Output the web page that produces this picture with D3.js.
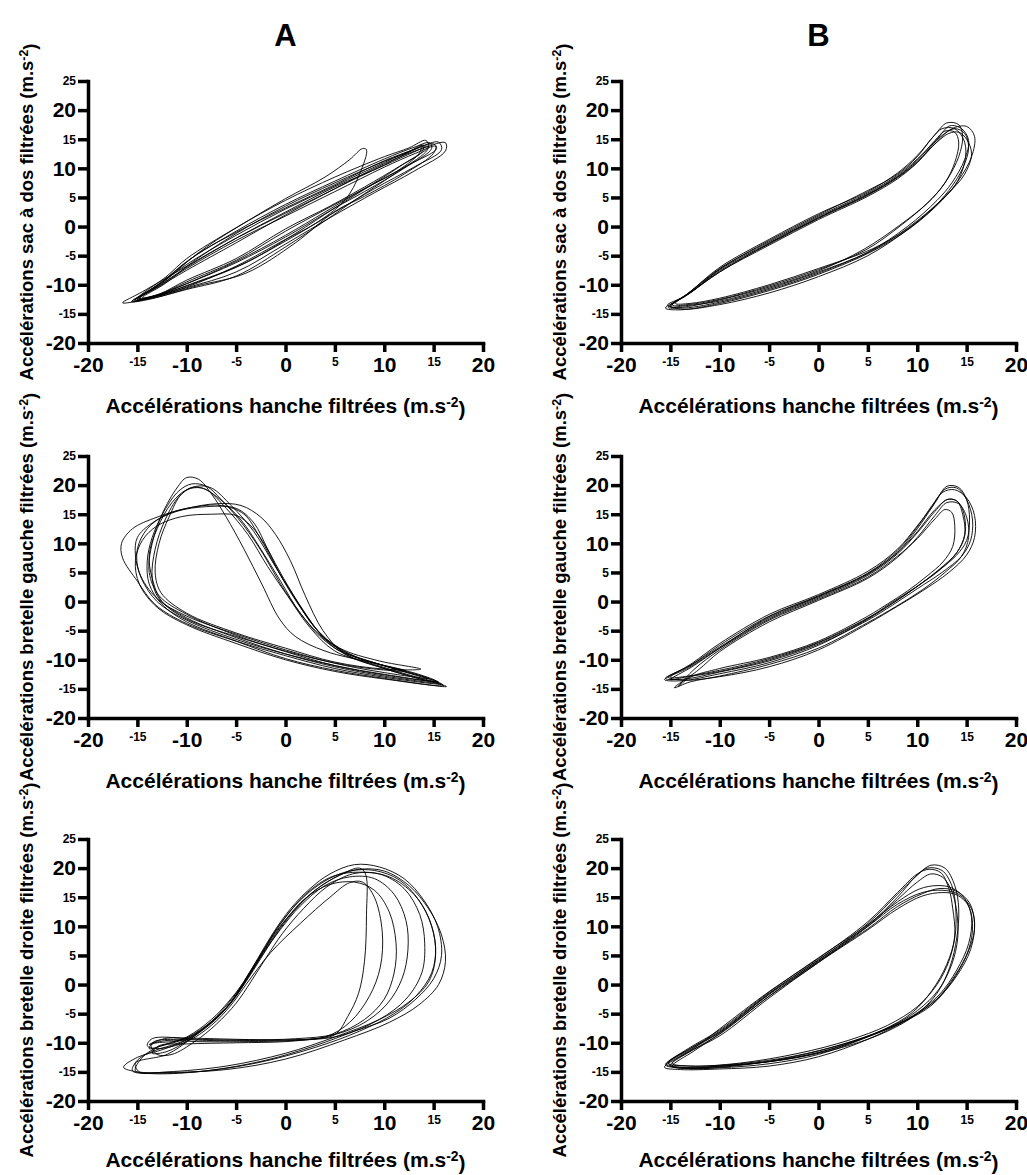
<!DOCTYPE html>
<html>
<head>
<meta charset="utf-8">
<script src="https://cdn.jsdelivr.net/npm/d3@7"></script>
<style>
  body { margin: 0; background: #fff; }
  text { font-family: "Liberation Sans", Arial, sans-serif; font-weight: bold; fill: #000; }
</style>
</head>
<body>
<svg id="chart" width="1027" height="1175"></svg>
<script>
'use strict';

// ---- data ----
var xTicks = [-20, -15, -10, -5, 0, 5, 10, 15, 20];
var yTicks = [-20, -15, -10, -5, 0, 5, 10, 15, 20, 25];
var majorTicks = [-20, -10, 0, 10, 20];
var columnLabels = ["A", "B"];
var xTitle = "Accélérations hanche filtrées (m.s";
var yTitles = [
  "Accélérations sac à dos filtrées (m.s",
  "Accélérations bretelle gauche filtrées (m.s",
  "Accélérations bretelle droite filtrées (m.s"
];
var unitExp = "-2";

// sac à dos, condition A
var loopsA1 = [
  [[-15.2,-12.6],[-12.5,-9.5],[-10,-6],[-5,-0.8],[0,3.8],[5,7.8],[10,11.6],[13,13.6],[14.6,14.4],[14.8,13.4],[12,10],[8,6],[5,3.2],[0,-1.8],[-5,-6.2],[-10,-9.8],[-13.5,-12]],
  [[-15.5,-12.8],[-13,-10.2],[-10,-6.5],[-5,-1.5],[0,3],[5,7],[10,11],[13.5,13.6],[15.5,14.5],[15.8,13.2],[13,10.2],[9,6.5],[5,2.5],[0,-2.5],[-5,-7],[-10,-10.2],[-13.5,-12.2]],
  [[-15,-12.4],[-12,-8.5],[-10,-5.5],[-5,-0.2],[0,4.5],[5,8.5],[10,12],[12.5,13.5],[14.2,14.8],[14.5,13.8],[12,10.8],[8.5,7],[5,3.8],[0,-0.8],[-5,-5.8],[-10,-9.5],[-13,-11.8]],
  [[-16.5,-13.1],[-14.5,-11.2],[-10,-6.8],[-5,-2],[0,2.3],[5,6.5],[10,10.8],[14,13.5],[16.2,14.4],[16.2,13],[13,9.5],[9,5.8],[5,2],[0,-3],[-5,-7.8],[-10,-10.5],[-15,-12.8]],
  [[-14.8,-12.5],[-12,-8.8],[-8,-3.5],[-4,0.8],[0,4.8],[4,8.5],[6.5,11.5],[7.8,13.4],[8.2,13.2],[7.5,9],[6,4.5],[3,0.5],[0,-2.2],[-5,-6.8],[-10,-10.4],[-13.5,-12.2]],
  [[-15,-12.6],[-12.5,-9.8],[-10,-7],[-5,-2],[0,2.5],[5,6.8],[10,10.5],[13,12.8],[14.5,13.8],[14.2,12.8],[11,9],[7,4.5],[4,1],[0,-3.5],[-5,-8.5],[-10,-10.8],[-13.5,-12.3]],
  [[-15.3,-12.7],[-13,-10.5],[-10,-7.5],[-5,-2.8],[0,2],[5,6.5],[10,10.6],[12.5,12.8],[13.8,14],[13.5,12.5],[11,9.2],[8,6.5],[4,2.5],[0,-1.5],[-5,-6],[-10,-9.8],[-13.2,-12]],
  [[-14.8,-12.3],[-12,-9],[-9,-4.8],[-5,-1],[0,3.2],[5,7.2],[10,11.3],[13,13.2],[15,14.2],[15.3,13.4],[12.5,10.6],[9,7.4],[5,3.2],[1,-1.2],[-4,-6.2],[-9,-9.5],[-13,-11.8]],
  [[-14.5,-12.2],[-12.2,-9.8],[-9.5,-6.2],[-5,-1.2],[0,3.5],[5,7.5],[10,11.2],[12.8,13],[14,14],[13.8,12.8],[11.5,10.3],[8,6.8],[4.5,3.5],[0,-0.4],[-5,-5.5],[-10,-9.2],[-12.8,-11.6]],
  [[-15.6,-12.9],[-13.4,-10.8],[-10,-7.2],[-5,-2.4],[0,1.8],[5,6],[10,10.2],[13.2,12.6],[15.2,13.8],[15,12.6],[12,9],[8,5.2],[5,2.6],[1,-2.8],[-4,-8],[-9,-10.2],[-13.8,-12.5]]
];

// sac à dos, condition B
var loopsB1 = [
  [[-15,-13.8],[-13.3,-11.6],[-10,-7.2],[-5,-2.6],[0,1.8],[5,5.8],[8,8.8],[10,11.6],[12,15],[13.3,17.3],[14.5,16.8],[15.2,14.8],[14.8,11.5],[13.5,7.5],[12,4.5],[9,0],[5,-4.4],[0,-7.8],[-5,-10.6],[-10,-12.8],[-13.5,-13.6]],
  [[-15.5,-14],[-13.5,-12],[-10,-7.6],[-5,-3],[0,1.4],[5,5.4],[8,8.4],[10,11],[12,14.6],[13.5,16.8],[15,17.2],[15.8,15.5],[15.5,12],[14.2,8],[12.5,4.5],[9.5,0],[5.5,-4.2],[0,-8.2],[-5,-11],[-10,-13.2],[-14,-14.3]],
  [[-14.8,-13.5],[-13,-11.2],[-10,-7],[-5,-2.2],[0,2.2],[5,6],[8,9.2],[10,12.2],[11.8,15.8],[13,17.8],[14.2,17.5],[14.6,15.5],[14.2,12],[13,8],[11.5,4.8],[8.5,0.4],[4.8,-4],[0,-7.4],[-5,-10.2],[-10,-12.5],[-13.2,-13.4]],
  [[-15.2,-13.9],[-13.2,-11.5],[-10,-7.4],[-5,-2.8],[0,1.6],[5,5.6],[8,8.6],[10,11.4],[11.8,14.8],[12.8,16.4],[13.8,16.2],[14.2,14.5],[13.8,11],[12.8,7.5],[11,4],[8.2,0.2],[4.5,-4],[0,-7.6],[-5,-10.4],[-10,-12.6],[-13.5,-13.8]],
  [[-15,-13.6],[-13,-11.4],[-10,-7.8],[-5,-3.2],[0,1.2],[5,5.2],[8,8.2],[10,11],[12.2,15.2],[13.8,16.8],[14.8,16],[15.2,13.5],[14.6,10],[13.2,6.2],[11.5,3],[8.8,-0.8],[5,-5],[0,-8.6],[-5,-11.4],[-10,-13.4],[-13.8,-14.2]],
  [[-14.5,-13.2],[-12.5,-10.8],[-10,-7.3],[-5,-2.4],[0,2],[5,6.2],[8,9],[10,12],[11.5,15.2],[12.5,16.8],[13.8,16.8],[14.8,14.5],[14.8,11],[13.8,7],[12,3.8],[9.2,-0.2],[5.5,-3.8],[0,-7.2],[-5,-10],[-10,-12.3],[-13,-13.2]],
  [[-15.3,-13.5],[-13.6,-12],[-10,-7.8],[-5,-2.9],[0,1.5],[5,5.5],[8,8.5],[10,11.2],[12,14.5],[13.2,16],[14.2,16.2],[15,15],[15.5,12.5],[14.8,9],[13,5.5],[10,1],[6,-3.6],[0,-8],[-5,-10.8],[-10,-13],[-14,-14]]
];

// bretelle gauche, condition A
var loopsA2 = [
  [[15.3,-13.7],[10,-12.6],[5,-11],[0,-8.6],[-5,-5.8],[-10,-2.2],[-12.8,1],[-13.8,5],[-13.5,10],[-12.5,15],[-11,19.5],[-10,21.3],[-8.8,21],[-7.5,18.5],[-6,14.5],[-4.2,9],[-2.4,3],[-0.6,-3],[1,-6],[4,-8.5],[9,-10.6],[13.5,-12.5]],
  [[16.3,-14.6],[10,-13.2],[5,-11.8],[0,-9.8],[-5,-6.8],[-10,-3.5],[-12.5,-0.5],[-13.8,3],[-14,7],[-13.5,11],[-12.3,15.5],[-10.8,19],[-9.5,20.2],[-8,19.8],[-6.5,17.5],[-4.2,13],[-2.2,8],[-0.5,3],[1.5,-2],[3.5,-6],[6,-9],[10,-11.5],[13,-13]],
  [[15.5,-14],[10,-12.8],[5,-11.2],[0,-9],[-5,-6.2],[-10,-2.8],[-12.8,0.5],[-13.5,4],[-13.2,9],[-12.2,14],[-10.8,18],[-9.5,19.6],[-8,19.2],[-6,16],[-3.8,11.5],[-1.8,6],[0.2,1],[2.5,-4.5],[5,-8.5],[9,-10.8],[12.5,-12.6]],
  [[13.7,-11.6],[10,-11.6],[5,-10.4],[0,-8],[-5,-5.4],[-10,-2],[-12.6,1.5],[-13.2,5],[-12.8,10],[-11.8,14.5],[-10.5,18.5],[-9,19.8],[-7.5,19.5],[-5.5,16.5],[-3.2,12],[-1.2,6.5],[0.8,1],[3,-4.5],[5.5,-8],[9.5,-10.2]],
  [[12.2,-11.9],[8,-11.4],[4,-10.2],[0,-8.5],[-5,-6],[-10,-3],[-12.5,0],[-13.5,4],[-13.8,8],[-13,12.5],[-11.5,17],[-10,19.2],[-8.5,19.5],[-6.8,17.8],[-4.5,14],[-2.5,9],[-0.5,3.5],[1.5,-2],[4,-6.5],[7.5,-9.8]],
  [[15.8,-14.2],[10,-13],[5,-11.5],[0,-9.3],[-5,-6.8],[-10,-3.8],[-13.2,-0.5],[-15,3.5],[-16.5,7.5],[-16.6,10],[-15.5,12.5],[-13,14.5],[-10,16],[-7,16.8],[-4.5,16.5],[-2.5,14.5],[-1,11.5],[0.5,7],[2,1],[3.8,-5],[6,-9],[10,-11.5],[13,-13]],
  [[15.5,-13.8],[10,-12.5],[5,-11],[0,-9],[-5,-6.5],[-10,-3.2],[-13,0],[-14.6,4],[-15.2,8],[-15,11],[-13.5,13.5],[-11,15.5],[-8,16.3],[-5,16],[-3.2,13.5],[-1.8,9],[-0.2,4],[1.8,-1.5],[3.8,-6],[6.5,-9],[10.5,-11.3],[13.5,-12.8]],
  [[16,-14.4],[10,-13.3],[5,-12],[0,-10],[-5,-7.2],[-10,-4],[-13,-1],[-14.8,3],[-15.2,7],[-14.5,10.5],[-13,13],[-10.5,14.6],[-7.5,15],[-5,14.8],[-3.5,13],[-2,9.5],[-0.5,4.5],[1.5,-1],[3.5,-5.5],[6,-8.8],[10,-11],[13.8,-12.8]],
  [[14.5,-13.2],[10,-12.2],[5,-10.6],[0,-8.3],[-5,-5.6],[-10,-2.5],[-13,0.5],[-14.8,5],[-15,9],[-14,12.5],[-12,15],[-9,16.3],[-6.5,16.5],[-4.2,15],[-2.6,11],[-1,6],[0.8,1],[2.8,-4],[5,-8],[9,-10.5],[12,-12]]
];

// bretelle gauche, condition B
var loopsB2 = [
  [[-15.5,-13.2],[-13,-11],[-10,-7.8],[-5,-2.8],[0,0.8],[5,4.7],[8,8.5],[10,12.5],[11.5,16.2],[12.8,19.3],[14,19.5],[15,17.5],[15.6,14],[15.4,10.5],[14.5,7.8],[12.5,5],[10,2.2],[7.5,-0.6],[5,-3.2],[0,-7.3],[-5,-10.2],[-10,-12.1],[-13.5,-13.3]],
  [[-15,-13],[-12.8,-10.6],[-10,-7.2],[-5,-2.2],[0,1.2],[5,5.2],[8,9],[10,13],[11.8,17],[13,19.8],[14.2,19.6],[15,17.5],[15.3,14],[15,10.5],[14,8],[12.2,5.4],[10,2.6],[7.5,-0.3],[5,-2.8],[0,-7],[-5,-9.8],[-10,-11.8],[-13.2,-12.8]],
  [[-14.2,-14.6],[-12.5,-11.5],[-10,-8.3],[-5,-3.2],[0,0.4],[5,4.2],[8,7.8],[10,10.8],[11.8,14.2],[12.8,15.8],[13.5,15.3],[13.8,13],[13.6,9.5],[12.6,6.8],[11,4.4],[9,1.8],[7,-0.4],[5,-2.5],[0,-6.8],[-5,-9.6],[-10,-11.5],[-13,-13]],
  [[-15.6,-13.4],[-13.2,-11.4],[-10,-8],[-5,-3],[0,0.6],[5,4.5],[8,8.2],[10,11.8],[11.8,15.5],[13,17.5],[14,17.3],[14.6,15],[14.8,11.5],[14,8.4],[12.4,5.6],[10,2.6],[7.5,-0.3],[5,-3],[0,-7.5],[-5,-10.5],[-10,-12.4],[-13.8,-13.6]],
  [[-14.6,-14.8],[-12.2,-11.8],[-10,-8.6],[-5,-3.5],[0,0.2],[5,4],[8,7.6],[10,11],[11.8,14.8],[13,17],[14.2,16.8],[15,14.5],[15.2,11],[14.5,7.8],[12.8,5],[10.5,2],[7.8,-0.9],[5,-3.6],[0,-8],[-5,-10.8],[-10,-12.8],[-13,-13.8]],
  [[-15.2,-13],[-13,-11],[-10,-7.5],[-5,-2.5],[0,1],[5,4.9],[8,8.8],[10,12.8],[11.5,16.5],[12.6,18.8],[13.8,19.2],[15,17.8],[15.8,14.8],[15.8,11],[15,8],[13.2,5],[10.5,1.8],[8,-0.8],[5,-3.8],[0,-8.3],[-5,-11.2],[-10,-12.9],[-13.5,-13.5]],
  [[-15,-13.4],[-12.8,-11.2],[-10,-8],[-5,-2.6],[0,0.9],[5,4.8],[8,8.4],[10,12],[11.8,15.8],[13.2,17.6],[14.2,17],[14.8,14.5],[14.8,11.2],[14,8.4],[12.2,5.5],[9.8,2.4],[7.2,-0.4],[5,-2.9],[0,-7.1],[-5,-10],[-10,-12],[-13.6,-13]]
];

// bretelle droite, condition A
var loopsA3 = [
  [[-12.5,-11.2],[-10,-9.5],[-7.5,-6.5],[-5.5,-3],[-4,0.5],[-2.5,4.5],[-1,8.5],[0.8,12.5],[3,16.2],[5.5,18.8],[7.5,19.8],[10,19.5],[12.5,17],[14.5,13],[15.8,8.5],[16.2,4],[15.5,0],[13.5,-3.5],[10.5,-6.5],[6,-9.5],[0,-12.8],[-6,-14.6],[-12,-15.1],[-15,-15],[-16.4,-14.2],[-15,-12.5]],
  [[-13,-10.8],[-10,-9],[-7.5,-6],[-5.8,-3],[-4.2,0.5],[-2.8,4.5],[-1.2,9],[0.5,13],[2.5,16.5],[4.5,19],[7,20.6],[9.5,20.2],[12,18.2],[14,14.5],[15.4,10],[15.8,5],[15,1],[13.2,-2.5],[10.5,-5.8],[7,-8],[3,-10.5],[-2,-13],[-8,-14.8],[-13,-15.2],[-15.2,-14.8],[-14.5,-12.5]],
  [[-12,-12],[-9.5,-9.2],[-7,-5.5],[-5,-1.5],[-3.5,2.5],[-2,6.5],[-0.5,10.5],[1.5,14.5],[4,17.8],[6.5,19.5],[9,19.6],[11.5,18],[13.5,14.5],[14.8,10],[15.2,5],[14.5,0.5],[12.5,-3],[9.5,-6],[5,-9],[0,-11.8],[-6,-14],[-12,-15],[-14.8,-15],[-15.2,-13.5]],
  [[-13.5,-11.5],[-10.5,-9.8],[-8,-7.2],[-6,-4],[-4.5,-0.5],[-3,3.5],[-1.5,8],[0.2,12],[2.2,15.8],[4.8,18.6],[7.5,19.3],[10.5,18.5],[13,15.5],[14.5,11.5],[15.2,6.5],[14.8,2],[13.2,-2],[11,-5],[7.5,-8],[3,-10.8],[-3,-13.5],[-9,-15],[-13.5,-15.3],[-15.5,-14.8],[-15,-13]],
  [[-12.5,-10.5],[-10,-9.2],[-7.5,-6.5],[-5.5,-3],[-4,1],[-2.5,5],[-1,9],[1,13],[3,16.2],[5.5,18.8],[7.5,20],[8.1,19],[8.2,12],[8,4],[7.4,-1.5],[6.3,-5.5],[5,-8.6],[2,-9.4],[-3,-9.6],[-8,-9.6],[-11,-9.4],[-13.3,-9.8],[-13.8,-11]],
  [[-13,-10],[-10.5,-9.5],[-8,-7],[-6,-4],[-4.5,-0.5],[-3,3.5],[-1.5,7.5],[0.2,11.5],[2,14.8],[4.5,17.2],[7,17.6],[9,16.2],[10.5,12.5],[11.2,7],[11,2],[10,-2.5],[8,-6],[5,-8.5],[1,-9.3],[-4,-9.5],[-9,-9.4],[-12,-9.2],[-13.8,-10.3]],
  [[-12,-11.5],[-9.8,-9.5],[-7.2,-6.2],[-5.2,-2.5],[-3.8,1.2],[-2.2,5.5],[-0.5,9.5],[1.5,13.5],[4,17],[6.5,18.5],[9,18.2],[11,15.5],[12.2,11],[12.4,6],[11.8,1],[10.2,-3.5],[7.5,-7],[4,-9],[0,-9.8],[-5,-10],[-10,-10.2],[-12.8,-10.5],[-13.5,-11.8]],
  [[-11.5,-12],[-9.2,-9.8],[-7,-6.8],[-5,-3.2],[-3.5,0.5],[-2,4.5],[-0.3,8.8],[1.8,13],[4.2,16.8],[6.8,19],[9.5,19],[12,16.5],[13.6,12],[14.1,7],[13.8,2],[12.2,-2.5],[9.5,-6],[5.5,-8.8],[1,-9.6],[-4,-9.8],[-9,-9.8],[-12,-9.6],[-13.6,-10.4],[-13,-12]],
  [[-13,-11],[-10,-9.8],[-7.5,-7],[-5.5,-3.5],[-4,0],[-1.5,5.5],[1.5,10.5],[4.5,15],[6.5,17.5],[7.8,17.6],[9,15],[9.8,9],[9.6,3],[8.5,-2],[6.5,-6.5],[4,-9],[0,-9.5],[-5,-9.4],[-10,-9.2],[-13.5,-9.3],[-14,-10.5]]
];

// bretelle droite, condition B
var loopsB3 = [
  [[-15.5,-13.8],[-13,-11],[-10,-8],[-5,-1.5],[0,4.2],[5,10.5],[8,15.5],[10,18.8],[11.4,20.5],[12.8,20],[13.8,17],[14.2,13],[14,8],[13.3,3],[12,-1.5],[10,-5],[7,-8],[3,-10.5],[-2,-12.5],[-8,-13.8],[-13,-14.3]],
  [[-15.2,-13.5],[-12.8,-10.8],[-10,-8.2],[-5,-1.7],[0,4],[5,10.2],[8,15],[9.8,18.5],[11,20],[12.5,19.6],[13.5,17],[13.9,13],[13.8,8],[13,3.5],[11.5,-1],[9.5,-4.8],[6.5,-7.8],[2.5,-10.2],[-2.5,-12.3],[-8,-13.6],[-13,-14]],
  [[-15,-13.9],[-12.7,-11.2],[-10,-8.5],[-5,-2],[0,3.8],[5,10],[8,14.6],[10,17.6],[11.4,19],[12.6,18.4],[13.5,16],[14,12.5],[14.1,8],[13.5,3.5],[12.2,-0.8],[10,-4.5],[7,-7.5],[3,-10],[-2,-12.2],[-8,-13.9],[-13.5,-14.4]],
  [[-15.2,-13.6],[-13,-11.2],[-10,-8.2],[-5,-1.6],[0,4.3],[5,10],[8,13.8],[10.5,15.8],[12.5,16.2],[14.2,15.5],[15.5,13],[15.8,9.5],[15,5],[13.5,0.5],[11.5,-3.5],[8.5,-6.5],[5,-9],[0,-12],[-5,-13.6],[-10,-14.3],[-13.5,-14.4]],
  [[-14.8,-14],[-12.6,-11.4],[-10,-8.4],[-5,-2],[0,4],[5,9.6],[8,13.4],[10.5,15.6],[12.3,16.5],[14,16],[15.3,14],[15.8,10.5],[15.4,6],[14,1.5],[12,-2.5],[9,-6],[5.5,-8.6],[0.5,-11.5],[-5,-13.2],[-10,-14],[-13.5,-14.4]],
  [[-15.4,-13.7],[-13.2,-11],[-10,-7.8],[-5,-1.3],[0,4.6],[5,10.3],[8,14.2],[10.2,16.4],[12,17],[13.5,16.6],[14.8,14.8],[15.5,11.5],[15.2,7],[14,2.5],[12.2,-1.8],[9.5,-5.4],[6,-8.2],[1,-11.2],[-4,-13],[-10,-14],[-13.8,-14.2]],
  [[-14.8,-13.5],[-12.5,-10.8],[-10,-7.6],[-5,-1.2],[0,4.5],[5,10.8],[8,15.8],[10,19],[11.2,19.8],[12.4,19.2],[13.2,16.5],[13.6,13],[13.8,8.5],[13.2,4],[12,0],[10,-3.8],[7,-7],[3,-9.6],[-2,-11.8],[-8,-13.5],[-13,-14]],
  [[-15.6,-14.2],[-13.4,-11.8],[-10,-8.8],[-5,-2.3],[0,3.8],[5,9.4],[8,13],[10.5,15.2],[12.5,15.8],[14,15.4],[15.2,13.5],[15.6,10],[15.2,6],[13.8,1.5],[11.8,-2.8],[8.8,-6.2],[5,-9.4],[0,-12.4],[-5,-14],[-10,-14.5],[-14,-14.6]]
];

var panels = [
  { loops: loopsA1, col: 0, row: 0 },
  { loops: loopsB1, col: 1, row: 0 },
  { loops: loopsA2, col: 0, row: 1 },
  { loops: loopsB2, col: 1, row: 1 },
  { loops: loopsA3, col: 0, row: 2 },
  { loops: loopsB3, col: 1, row: 2 }
];

// ---- layout ----
var colLeft = [88, 621];
var rowTop = [81, 456, 839];
var xTitleGap = [70, 70, 66];
var W = 395, H = 262;

var svg = d3.select("#chart");

function isMajor(d) { return majorTicks.indexOf(d) >= 0; }

function addUnitTitle(sel, text) {
  sel.append("tspan").text(text);
  sel.append("tspan").attr("dy", "-0.42em").style("font-size", "0.66em").text(unitExp);
  sel.append("tspan").attr("dy", "0.42em").text(")");
}

function drawPanel(p) {
  var g = svg.append("g")
    .attr("transform", "translate(" + colLeft[p.col] + "," + rowTop[p.row] + ")");

  var x = d3.scaleLinear().domain([-20, 20]).range([0, W]);
  var y = d3.scaleLinear().domain([-20, 25]).range([H, 0]);

  var line = d3.line()
    .x(function(d) { return x(d[0]); })
    .y(function(d) { return y(d[1]); })
    .curve(d3.curveCatmullRomClosed.alpha(0.5));

  g.append("g").selectAll("path")
    .data(p.loops)
    .enter().append("path")
    .attr("d", line)
    .attr("fill", "none")
    .attr("stroke", "#000")
    .attr("stroke-width", 0.9);

  var xAxis = d3.axisBottom(x)
    .tickValues(xTicks)
    .tickSize(9).tickSizeOuter(0).tickPadding(5)
    .tickFormat(function(d) { return String(d); });
  var yAxis = d3.axisLeft(y)
    .tickValues(yTicks)
    .tickSize(10).tickSizeOuter(0).tickPadding(2)
    .tickFormat(function(d) { return String(d); });

  var gx = g.append("g").attr("transform", "translate(0," + H + ")").call(xAxis);
  var gy = g.append("g").call(yAxis);

  [gx, gy].forEach(function(a) {
    a.attr("font-family", null).attr("font-size", null);
    a.select(".domain").style("stroke", "#000").style("stroke-width", "3.5px").style("stroke-linecap", "square");
    a.selectAll(".tick line").style("stroke", "#000").style("stroke-width", "3.5px");
    a.selectAll(".tick text").attr("fill", "#000")
      .style("font-size", function(d) { return isMajor(d) ? "21px" : "12px"; });
  });

  var xt = g.append("text")
    .attr("x", W / 2).attr("y", H + xTitleGap[p.row])
    .attr("text-anchor", "middle")
    .style("font-size", "21px");
  addUnitTitle(xt, xTitle);

  var yt = g.append("text")
    .attr("transform", "translate(-55," + (H / 2) + ") rotate(-90)")
    .attr("text-anchor", "middle")
    .style("font-size", "18.5px");
  addUnitTitle(yt, yTitles[p.row]);

  if (p.row === 0) {
    g.append("text")
      .attr("x", W / 2).attr("y", -35)
      .attr("text-anchor", "middle")
      .style("font-size", "31px")
      .text(columnLabels[p.col]);
  }
}

panels.forEach(drawPanel);
</script>
</body>
</html>
